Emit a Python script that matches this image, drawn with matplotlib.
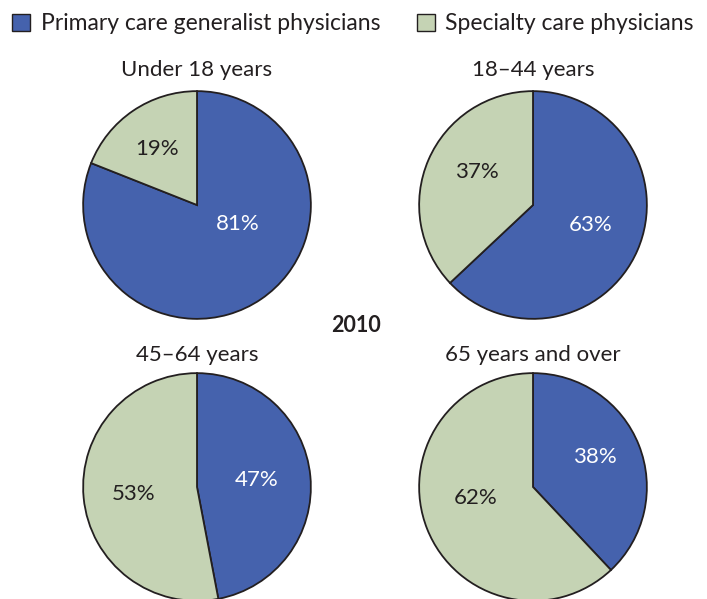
import matplotlib
matplotlib.use("Agg")
import matplotlib.pyplot as plt
from matplotlib.patches import Patch

plt.rcParams['font.family'] = ['Lato', 'DejaVu Sans']

# data
groups = ["Under 18 years", "18\u201344 years", "45\u201364 years", "65 years and over"]
primary = [81, 63, 47, 38]
specialty = [19, 37, 53, 62]
series_names = ["Primary care generalist physicians", "Specialty care physicians"]
year = "2010"

blue = "#4562ad"
green = "#c5d3b4"
dark = "#231f20"

W, H = 707, 599
fig = plt.figure(figsize=(W / 100, H / 100), dpi=100)

# pie centres in pixels (from top left), radius in pixels
centres = [(197, 205), (533, 205), (197, 487), (533, 487)]
radius = 115
# label offsets in units of the radius: (primary, specialty)
label_pos = [
    ((0.36, -0.17), (-0.35, 0.49)),
    ((0.51, -0.18), (-0.49, 0.29)),
    ((0.52, 0.06), (-0.56, -0.06)),
    ((0.54, 0.26), (-0.50, -0.10)),
]
title_y = [70, 70, 355, 355]
fs = 16

for i, name in enumerate(groups):
    cx, cy = centres[i]
    ax = fig.add_axes([(cx - radius) / W, (H - cy - radius) / H,
                       2 * radius / W, 2 * radius / H])
    ax.pie([primary[i], specialty[i]], colors=[blue, green], startangle=90,
           counterclock=False, radius=1,
           wedgeprops=dict(edgecolor=dark, linewidth=1.3))
    ax.set_xlim(-1.01, 1.01)
    ax.set_ylim(-1.01, 1.01)
    ax.set_aspect('equal')
    ax.axis('off')
    (px, py), (sx, sy) = label_pos[i]
    ax.text(px, py, "%d%%" % primary[i], color="white", fontsize=fs,
            ha="center", va="center")
    ax.text(sx, sy, "%d%%" % specialty[i], color=dark, fontsize=fs,
            ha="center", va="center")
    fig.text(cx / W, 1 - title_y[i] / H, name, fontsize=fs, color=dark,
             ha="center", va="center")

fig.text(356 / W, 1 - 325 / H, year, fontsize=15.5, fontweight="bold",
         color=dark, ha="center", va="center")

handles = [Patch(facecolor=blue, edgecolor=dark, linewidth=1),
           Patch(facecolor=green, edgecolor=dark, linewidth=1)]
fig.legend(handles, series_names, loc="center left",
           bbox_to_anchor=(12 / W, 1 - 24 / H), ncol=2, frameon=False,
           fontsize=16.5, handlelength=0.8, handleheight=0.8,
           handletextpad=0.45, columnspacing=1.6, borderaxespad=0,
           borderpad=0, labelcolor=dark)

fig.savefig("out.png", dpi=100)
